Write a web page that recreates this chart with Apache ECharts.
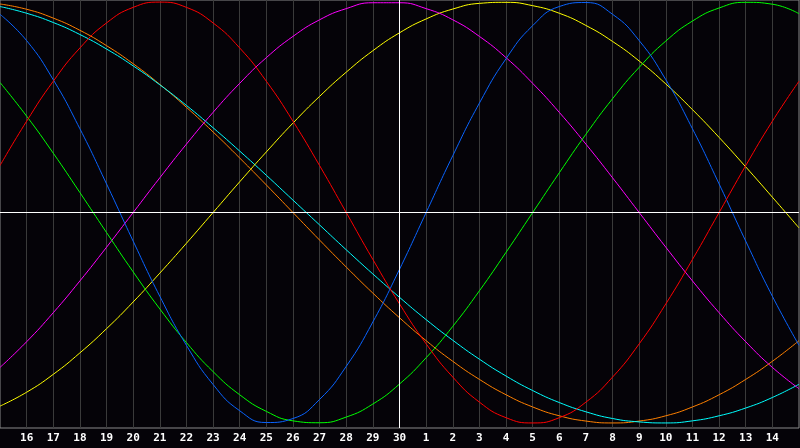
<!DOCTYPE html>
<html>
<head>
<meta charset="utf-8">
<script src="https://cdn.jsdelivr.net/npm/echarts@6/dist/echarts.min.js"></script>
<style>
  html, body { margin: 0; padding: 0; background: #050308; }
  #chart { width: 800px; height: 448px; }
</style>
</head>
<body>
<div id="chart"></div>
<script>
// days shown: 15th of one month to 15th of the next
var days = ['15','16','17','18','19','20','21','22','23','24','25','26','27','28','29','30',
            '1','2','3','4','5','6','7','8','9','10','11','12','13','14','15'];

// curve values read per day (-1 .. 1)
var redVals = [0.223,0.434,0.624,0.782,0.901,0.975,1,0.975,0.901,0.782,0.624,0.434,0.223,0,
  -0.223,-0.434,-0.624,-0.782,-0.901,-0.975,-1,-0.975,-0.901,-0.782,-0.624,-0.434,-0.223,0,0.223,0.434,0.624];
var blueVals = [0.942,0.817,0.631,0.398,0.136,-0.136,-0.398,-0.631,-0.817,-0.942,-0.998,-0.979,-0.888,
  -0.731,-0.520,-0.270,0,0.270,0.520,0.731,0.888,0.979,0.998,0.942,0.817,0.631,0.398,0.136,-0.136,-0.398,-0.631];
var greenVals = [0.618,0.458,0.282,0.095,-0.095,-0.282,-0.458,-0.618,-0.756,-0.866,-0.945,-0.990,-0.999,
  -0.972,-0.910,-0.815,-0.690,-0.541,-0.372,-0.189,0,0.189,0.372,0.541,0.690,0.815,0.910,0.972,0.999,0.990,0.945];
var yellowVals = [-0.920,-0.854,-0.769,-0.667,-0.552,-0.425,-0.288,-0.146,0,0.146,0.288,0.425,0.552,0.667,
  0.769,0.854,0.920,0.967,0.994,0.999,0.983,0.947,0.889,0.813,0.720,0.611,0.489,0.357,0.217,0.073,-0.073];
var magentaVals = [-0.736,-0.614,-0.476,-0.325,-0.165,0,0.165,0.325,0.476,0.614,0.736,0.837,0.916,0.969,
  0.997,0.997,0.969,0.916,0.837,0.736,0.614,0.476,0.325,0.165,0,-0.165,-0.325,-0.476,-0.614,-0.736,-0.837];
var orangeVals = [0.991,0.966,0.924,0.866,0.793,0.707,0.609,0.5,0.383,0.259,0.131,0,-0.131,-0.259,-0.383,
  -0.5,-0.609,-0.707,-0.793,-0.866,-0.924,-0.966,-0.991,-1,-0.991,-0.966,-0.924,-0.866,-0.793,-0.707,-0.609];
var cyanVals = [0.979,0.947,0.903,0.846,0.777,0.697,0.607,0.509,0.403,0.292,0.177,0.059,-0.059,-0.177,-0.292,
  -0.403,-0.509,-0.607,-0.697,-0.777,-0.846,-0.903,-0.947,-0.979,-0.995,-1,-0.990,-0.966,-0.929,-0.879,-0.816];

var chart = echarts.init(document.getElementById('chart'));

function curve(name, data, color) {
    return {
        name: name,
        type: 'line',
        data: data,
        smooth: true,
        symbol: 'none',
        silent: true,
        lineStyle: { color: color, width: 1 }
    };
}

var series = [
    curve('orange', orangeVals, '#ff8000'),
    curve('cyan', cyanVals, '#00ffff'),
    curve('yellow', yellowVals, '#ffff00'),
    curve('magenta', magentaVals, '#ff00ff'),
    curve('green', greenVals, '#00ff00'),
    curve('blue', blueVals, '#0a64ff'),
    curve('red', redVals, '#ff0000')
];

// white cross: today and the zero line
series[0].markLine = {
    silent: true,
    symbol: 'none',
    label: { show: false },
    lineStyle: { color: '#ffffff', width: 1, type: 'solid' },
    data: [{ xAxis: '30' }, { yAxis: 0 }]
};

var option = {
    backgroundColor: '#050308',
    animation: false,
    grid: {
        left: 0, right: 1, top: 0, bottom: 20,
        show: true,
        borderColor: '#8a8a8a',
        borderWidth: 1
    },
    xAxis: {
        type: 'category',
        data: days,
        boundaryGap: false,
        axisLine: { show: false },
        axisTick: { show: false },
        axisLabel: {
            color: '#ffffff',
            fontFamily: 'DejaVu Sans Mono',
            fontWeight: 'bold',
            fontSize: 11,
            margin: 5,
            interval: function (i) { return i > 0 && i < days.length - 1; }
        },
        splitLine: { show: true, lineStyle: { color: '#3a3a3a', width: 1 } }
    },
    yAxis: {
        type: 'value',
        min: -1.024,
        max: 1.01,
        show: false,
        splitLine: { show: false }
    },
    series: series
};

chart.setOption(option);
</script>
</body>
</html>
